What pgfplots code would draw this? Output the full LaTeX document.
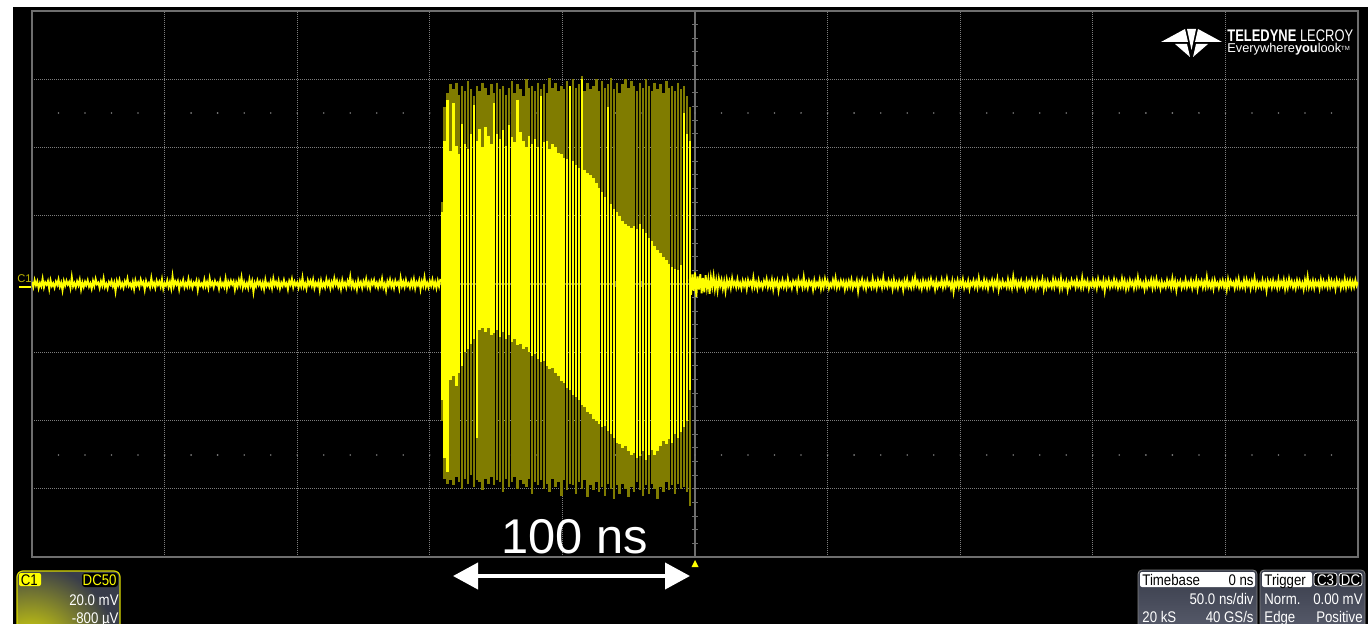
\documentclass[border=0pt]{standalone}
\usepackage{pgfplots}
\pgfplotsset{compat=1.18}
\usepackage{pgfplotstable}
\usepackage{graphicx}
\usepackage{fontspec}
\setmainfont{Liberation Sans}
\usetikzlibrary{arrows.meta}

\definecolor{trace}{RGB}{255,255,0}
\definecolor{traceolive}{RGB}{128,124,0}
\definecolor{gridgray}{RGB}{125,125,125}
\definecolor{framegray}{RGB}{110,110,110}
\definecolor{panelbg}{RGB}{56,60,74}
\definecolor{panelbot}{RGB}{92,96,112}
\definecolor{chanlabel}{RGB}{190,182,0}

\newcommand{\cond}[1]{\scalebox{0.86}[1]{#1}}
\newcommand{\panelfont}{\fontsize{7.7}{9}\selectfont}

% RF burst, one row per displayed stripe (time in ns, voltages in mV):
% lo/hi = full excursion, blo/bhi = densely hit (bright) part
\pgfplotstableread{
t lo hi blo bhi
-95.5 -40.0 24.0 -34.0 21.0
-94.4 -57.0 52.0 -51.0 42.0
-93.3 -58.5 56.0 -55.0 54.0
-92.2 -57.5 58.5 -28.0 39.0
-91.1 -59.0 57.0 -27.0 53.0
-90.0 -56.5 59.0 -30.0 40.5
-88.9 -58.0 55.5 -26.0 38.0
-87.8 -60.0 58.0 -24.0 47.0
-86.7 -57.0 56.5 -20.0 41.0
-85.6 -58.5 59.5 -19.0 39.5
-84.5 -56.0 57.0 -17.5 44.0
-83.4 -59.5 55.0 -16.0 52.5
-82.3 -57.5 58.0 -45.0 42.0
-81.2 -58.0 56.5 -13.5 45.5
-80.1 -60.5 59.0 -13.0 40.0
-79.0 -57.0 57.5 -14.0 46.0
-77.9 -58.5 55.5 -13.0 43.5
-76.8 -56.5 58.5 -15.0 41.0
-75.7 -59.0 56.0 -14.5 53.0
-74.6 -57.5 59.0 -13.5 44.0
-73.5 -58.0 57.0 -15.5 42.5
-72.4 -61.0 58.0 -14.0 45.0
-71.3 -57.0 55.5 -16.0 40.5
-70.2 -59.5 57.5 -15.0 46.5
-69.1 -58.0 59.5 -17.0 43.0
-68.0 -56.5 56.0 -16.0 41.5
-66.9 -60.0 58.5 -18.0 54.0
-65.8 -57.5 57.0 -17.5 44.5
-64.7 -58.5 55.0 -19.0 42.0
-63.6 -59.5 60.0 -18.5 40.0
-62.5 -57.0 57.5 -20.0 43.5
-61.4 -61.5 58.0 -21.0 41.0
-60.3 -58.0 56.5 -20.5 42.5
-59.2 -59.0 59.0 -22.0 40.0
-58.1 -57.5 57.0 -23.0 55.0
-57.0 -60.0 58.5 -22.5 41.5
-55.9 -58.5 56.0 -24.0 42.0
-54.8 -61.0 60.5 -25.0 39.5
-53.7 -57.0 57.5 -24.5 41.0
-52.6 -59.5 59.0 -26.0 40.0
-51.5 -58.0 56.5 -27.0 38.5
-50.4 -62.0 58.0 -28.5 38.0
-49.3 -57.5 57.0 -29.0 37.0
-48.2 -60.5 59.5 -30.5 36.5
-47.1 -58.5 56.0 -31.0 58.0
-46.0 -59.0 60.0 -32.5 36.0
-44.9 -61.5 57.5 -33.0 35.0
-43.8 -58.0 58.5 -34.0 34.0
-42.7 -60.0 61.0 -35.5 60.0
-41.6 -57.5 56.5 -36.0 33.5
-40.5 -62.5 59.0 -37.5 32.5
-39.4 -59.0 57.0 -38.0 32.0
-38.3 -60.5 58.0 -39.5 31.0
-37.2 -58.0 60.0 -40.0 29.5
-36.1 -61.0 56.5 -41.0 28.0
-35.0 -59.5 59.5 -42.0 27.0
-33.9 -62.0 57.5 -41.5 25.5
-32.8 -58.5 58.5 -43.0 52.0
-31.7 -60.0 60.5 -44.0 23.5
-30.6 -63.0 57.0 -45.0 22.0
-29.5 -59.0 59.0 -46.5 21.0
-28.4 -61.5 56.0 -47.0 20.0
-27.3 -58.5 58.5 -48.0 18.5
-26.2 -60.0 60.0 -47.5 17.5
-25.1 -62.5 57.5 -49.0 17.0
-24.0 -59.5 59.5 -50.0 16.5
-22.9 -61.0 58.0 -49.5 17.0
-21.8 -58.0 56.5 -51.0 16.0
-20.7 -60.5 59.0 -50.5 17.5
-19.6 -62.0 57.5 -49.0 16.0
-18.5 -59.0 60.0 -51.5 15.0
-17.4 -61.5 58.0 -50.0 13.5
-16.3 -58.5 56.5 -48.5 12.5
-15.2 -60.0 59.0 -50.0 11.0
-14.1 -63.0 57.0 -49.0 10.0
-13.0 -59.5 58.5 -47.5 9.0
-11.9 -61.0 56.0 -46.0 8.0
-10.8 -58.0 59.5 -47.0 7.0
-9.7 -60.5 57.5 -45.5 6.0
-8.6 -59.0 58.0 -46.5 5.0
-7.5 -61.5 56.5 -44.0 4.5
-6.4 -58.5 59.0 -45.0 4.0
-5.3 -60.0 57.0 -43.5 5.5
-4.2 -59.5 58.0 -42.0 50.0
-3.1 -61.0 55.0 -40.0 44.0
-2.0 -65.0 52.0 -31.0 42.0
}\burst

\pgfplotsset{
  stripes/.style={only marks, mark=*, mark size=0pt,
    mark options={draw opacity=0, fill opacity=0}, forget plot,
    error bars/.cd, y dir=minus, y explicit, error mark=none,
    error bar style={line width=1.2pt, #1}},
}

\begin{document}
\begin{tikzpicture}
% the page is exactly the screen capture: 1368 x 624 px at 2 px per pt
\path[use as bounding box] (0pt,0pt) rectangle (684pt,-312pt);
% screen and margins, in pixel units (y downwards)
\begin{scope}[x=0.5pt,y=-0.5pt]
\fill[white] (0,0) rectangle (1368,624);
\fill[black] (13,7) rectangle (1368,624);
% centre cross with 1/5 division ticks
\draw[framegray, line width=0.6pt] (695,11) -- (695,557);
\draw[framegray, line width=0.6pt] (32,284) -- (1358,284);
\foreach \k in {-19,...,19} \draw[framegray, line width=0.5pt] (692,{284+13.65*\k}) -- (698,{284+13.65*\k});
\foreach \k in {-24,...,24} \draw[framegray, line width=0.5pt] ({695+26.52*\k},281) -- ({695+26.52*\k},287);
% half-division dot rows
\foreach \k in {-24,...,24} {
  \fill[gridgray] ({695+26.52*\k},113) circle (0.45pt);
  \fill[gridgray] ({695+26.52*\k},455) circle (0.45pt);
}
\end{scope}

\begin{axis}[
  at={(16pt,-278.5pt)}, anchor=south west,
  scale only axis, width=663pt, height=273pt,
  xmin=-250, xmax=250, ymin=-80, ymax=80,
  xtick={-200,-150,-100,-50,50,100,150,200},
  ytick={-60,-40,-20,20,40,60},
  xticklabels={}, yticklabels={}, scaled ticks=false,
  major tick length=0pt,
  grid=major,
  major grid style={draw=gridgray, line width=0.5pt, dash pattern=on 0.5pt off 0.5pt},
  axis line style={draw=framegray, line width=0.6pt},
]
% baseline noise before the burst
\addplot[trace, line width=0.9pt, mark=none] coordinates {
(-250,0.6)(-249.5,-0.9)(-249,1.2)(-248.5,-0.4)(-248,0.8)(-247.5,-1.3)(-247,0.3)(-246.5,-0.7)(-246,1.6)(-245.5,-1.0)
(-245,0.5)(-244.5,-0.2)(-244,0.9)(-243.5,-1.5)(-243,1.1)(-242.5,-0.6)(-242,0.2)(-241.5,-1.1)(-241,0.7)(-240.5,-0.3)
(-240,1.4)(-239.5,-0.8)(-239,0.4)(-238.5,-1.9)(-238,0.9)(-237.5,-0.5)(-237,1.0)(-236.5,-0.2)(-236,0.6)(-235.5,-1.2)
(-235,2.1)(-234.5,-0.7)(-234,0.3)(-233.5,-1.0)(-233,0.8)(-232.5,-0.4)(-232,1.3)(-231.5,-1.6)(-231,0.5)(-230.5,-0.9)
(-230,0.7)(-229.5,-0.3)(-229,1.1)(-228.5,-0.8)(-228,0.2)(-227.5,-1.4)(-227,0.9)(-226.5,-0.6)(-226,1.5)(-225.5,-0.1)
(-225,0.4)(-224.5,-1.2)(-224,0.8)(-223.5,-0.5)(-223,1.7)(-222.5,-0.9)(-222,0.1)(-221.5,-1.3)(-221,0.6)(-220.5,-0.2)
(-220,1.0)(-219.5,-0.7)(-219,0.5)(-218.5,-2.2)(-218,0.9)(-217.5,-0.4)(-217,1.2)(-216.5,-0.8)(-216,0.3)(-215.5,-1.1)
(-215,0.8)(-214.5,-0.3)(-214,1.6)(-213.5,-0.6)(-213,0.2)(-212.5,-1.0)(-212,0.7)(-211.5,-1.5)(-211,1.1)(-210.5,-0.4)
(-210,0.5)(-209.5,-0.9)(-209,1.3)(-208.5,-0.2)(-208,0.6)(-207.5,-1.7)(-207,0.9)(-206.5,-0.5)(-206,0.3)(-205.5,-1.0)
(-205,1.8)(-204.5,-0.6)(-204,0.4)(-203.5,-1.2)(-203,1.0)(-202.5,-0.3)(-202,0.7)(-201.5,-0.8)(-201,1.4)(-200.5,-1.4)
(-200,0.2)(-199.5,-0.5)(-199,1.1)(-198.5,-0.9)(-198,0.6)(-197.5,-1.3)(-197,2.3)(-196.5,-0.7)(-196,0.8)(-195.5,-0.2)
(-195,0.9)(-194.5,-1.6)(-194,0.5)(-193.5,-0.4)(-193,1.2)(-192.5,-1.0)(-192,0.3)(-191.5,-0.8)(-191,1.5)(-190.5,-0.6)
(-190,0.7)(-189.5,-1.1)(-189,0.4)(-188.5,-0.3)(-188,1.0)(-187.5,-1.8)(-187,0.8)(-186.5,-0.5)(-186,0.2)(-185.5,-0.9)
(-185,1.3)(-184.5,-0.7)(-184,0.6)(-183.5,-1.2)(-183,1.7)(-182.5,-0.4)(-182,0.5)(-181.5,-1.0)(-181,0.9)(-180.5,-0.2)
(-180,0.4)(-179.5,-1.4)(-179,1.1)(-178.5,-0.6)(-178,0.3)(-177.5,-0.9)(-177,1.6)(-176.5,-1.3)(-176,0.7)(-175.5,-0.5)
(-175,1.0)(-174.5,-0.2)(-174,0.8)(-173.5,-1.7)(-173,0.5)(-172.5,-0.8)(-172,1.2)(-171.5,-0.4)(-171,2.0)(-170.5,-1.1)
(-170,0.6)(-169.5,-0.9)(-169,0.3)(-168.5,-1.2)(-168,1.4)(-167.5,-0.5)(-167,0.9)(-166.5,-2.4)(-166,0.4)(-165.5,-0.7)
(-165,1.1)(-164.5,-0.3)(-164,0.7)(-163.5,-1.0)(-163,0.5)(-162.5,-1.5)(-162,1.3)(-161.5,-0.6)(-161,0.2)(-160.5,-0.9)
(-160,0.8)(-159.5,-1.2)(-159,1.6)(-158.5,-0.4)(-158,0.6)(-157.5,-0.8)(-157,1.0)(-156.5,-1.3)(-156,0.4)(-155.5,-0.6)
(-155,1.2)(-154.5,-0.5)(-154,0.3)(-153.5,-1.6)(-153,0.9)(-152.5,-0.2)(-152,1.5)(-151.5,-1.0)(-151,0.7)(-150.5,-0.4)
(-150,0.5)(-149.5,-1.1)(-149,0.8)(-148.5,-0.7)(-148,1.9)(-147.5,-0.9)(-147,0.2)(-146.5,-1.4)(-146,1.1)(-145.5,-0.3)
(-145,0.9)(-144.5,-0.6)(-144,1.3)(-143.5,-1.2)(-143,0.4)(-142.5,-0.5)(-142,0.7)(-141.5,-1.8)(-141,1.0)(-140.5,-0.8)
(-140,0.3)(-139.5,-1.0)(-139,1.4)(-138.5,-0.4)(-138,0.8)(-137.5,-1.3)(-137,0.6)(-136.5,-0.7)(-136,1.7)(-135.5,-0.2)
(-135,1.0)(-134.5,-0.9)(-134,0.5)(-133.5,-1.5)(-133,1.2)(-132.5,-0.6)(-132,0.4)(-131.5,-1.1)(-131,0.9)(-130.5,-0.3)
(-130,2.2)(-129.5,-0.8)(-129,0.7)(-128.5,-1.0)(-128,0.3)(-127.5,-1.6)(-127,1.1)(-126.5,-0.5)(-126,0.6)(-125.5,-1.2)
(-125,0.8)(-124.5,-0.4)(-124,1.5)(-123.5,-0.9)(-123,0.5)(-122.5,-1.3)(-122,0.9)(-121.5,-0.2)(-121,1.2)(-120.5,-0.7)
(-120,0.4)(-119.5,-1.1)(-119,0.7)(-118.5,-0.6)(-118,1.6)(-117.5,-1.0)(-117,0.2)(-116.5,-1.9)(-116,0.8)(-115.5,-0.5)
(-115,1.3)(-114.5,-0.8)(-114,0.6)(-113.5,-1.2)(-113,1.0)(-112.5,-0.3)(-112,0.5)(-111.5,-1.4)(-111,1.8)(-110.5,-0.6)
(-110,0.7)(-109.5,-0.9)(-109,1.2)(-108.5,-0.5)(-108,0.3)(-107.5,-1.1)(-107,0.9)(-106.5,-0.7)(-106,1.4)(-105.5,-1.3)
(-105,0.5)(-104.5,-0.4)(-104,1.1)(-103.5,-1.6)(-103,0.8)(-102.5,-0.6)(-102,2.0)(-101.5,-0.9)(-101,0.4)(-100.5,-1.0)
(-100,0.9)(-99.5,-0.5)(-99,1.3)(-98.5,-0.8)(-98,0.6)(-97.5,-1.2)(-97,1.0)(-96.5,-0.7)(-96,1.5)
};
% burst: full excursion (sparsely hit), then the densely hit part on top
\addplot[traceolive, stripes=traceolive]
  table[x=t, y=hi, y error minus expr=\thisrow{hi}-\thisrow{lo}] {\burst};
\addplot[trace, stripes=trace]
  table[x=t, y=bhi, y error minus expr=\thisrow{bhi}-\thisrow{blo}] {\burst};
% ringing and baseline noise after the burst
\addplot[trace, line width=0.9pt, mark=none] coordinates {
(-2,1.5)(-1.5,-3.2)(-1,2.8)(-0.5,-2.0)(0,3.4)(0.5,-3.8)(1,2.2)(1.5,-1.6)(2,2.9)(2.5,-2.7)
(3,1.8)(3.5,-2.4)(4,2.6)(4.5,-1.2)(5,1.4)(5.5,-2.9)(6,1.9)(6.5,-0.8)(7,2.3)(7.5,-1.5)
(8,1.1)(8.5,-1.9)(9,1.6)(9.5,-0.6)(10,1.2)(10.5,-1.4)(11,0.8)(11.5,-2.1)(12,1.3)(12.5,-0.7)
(13,0.9)(13.5,-1.2)(14,1.7)(14.5,-0.5)(15,0.6)(15.5,-1.0)(16,1.4)(16.5,-0.8)(17,0.4)(17.5,-1.3)
(18,1.0)(18.5,-0.6)(19,0.8)(19.5,-1.5)(20,1.2)(20.5,-0.3)(21,0.7)(21.5,-1.1)(22,1.9)(22.5,-0.9)
(23,0.5)(23.5,-1.4)(24,1.1)(24.5,-0.7)(25,0.3)(25.5,-1.2)(26,0.9)(26.5,-0.4)(27,1.5)(27.5,-1.0)
(28,0.6)(28.5,-0.8)(29,1.3)(29.5,-1.6)(30,0.8)(30.5,-0.5)(31,1.0)(31.5,-2.0)(32,0.4)(32.5,-0.7)
(33,1.2)(33.5,-0.9)(34,0.5)(34.5,-1.1)(35,1.6)(35.5,-0.6)(36,0.3)(36.5,-1.3)(37,0.9)(37.5,-0.2)
(38,0.8)(38.5,-1.5)(39,1.4)(39.5,-0.4)(40,0.7)(40.5,-1.0)(41,2.1)(41.5,-0.8)(42,0.5)(42.5,-1.2)
(43,1.0)(43.5,-0.3)(44,0.6)(44.5,-1.7)(45,1.1)(45.5,-0.9)(46,0.4)(46.5,-0.6)(47,1.3)(47.5,-1.4)
(48,0.7)(48.5,-1.0)(49,1.5)(49.5,-0.5)(50,0.9)(50.5,-1.3)(51,0.2)(51.5,-0.8)(52,1.2)(52.5,-0.6)
(53,1.8)(53.5,-1.1)(54,0.5)(54.5,-0.9)(55,1.0)(55.5,-0.4)(56,0.8)(56.5,-1.6)(57,0.6)(57.5,-1.0)
(58,0.9)(58.5,-0.7)(59,1.3)(59.5,-1.2)(60,0.4)(60.5,-0.5)(61,1.1)(61.5,-2.2)(62,0.7)(62.5,-0.3)
(63,1.4)(63.5,-0.9)(64,0.6)(64.5,-1.4)(65,1.0)(65.5,-0.6)(66,0.3)(66.5,-1.0)(67,1.6)(67.5,-0.8)
(68,0.5)(68.5,-1.3)(69,1.2)(69.5,-0.4)(70,0.8)(70.5,-1.1)(71,1.9)(71.5,-0.7)(72,0.4)(72.5,-0.9)
(73,1.1)(73.5,-0.5)(74,0.7)(74.5,-1.5)(75,1.3)(75.5,-0.8)(76,0.5)(76.5,-1.2)(77,0.9)(77.5,-0.4)
(78,0.6)(78.5,-1.8)(79,1.0)(79.5,-0.6)(80,1.4)(80.5,-0.9)(81,0.3)(81.5,-1.1)(82,1.2)(82.5,-0.7)
(83,2.0)(83.5,-0.4)(84,0.8)(84.5,-1.0)(85,0.5)(85.5,-1.4)(86,1.1)(86.5,-0.6)(87,0.7)(87.5,-1.2)
(88,0.9)(88.5,-0.8)(89,1.5)(89.5,-0.3)(90,0.6)(90.5,-1.6)(91,1.0)(91.5,-0.9)(92,0.4)(92.5,-0.5)
(93,1.3)(93.5,-1.1)(94,0.7)(94.5,-0.7)(95,1.7)(95.5,-0.4)(96,0.5)(96.5,-1.3)(97,0.9)(97.5,-2.3)
(98,0.6)(98.5,-0.6)(99,1.2)(99.5,-1.0)(100,0.8)(100.5,-0.5)(101,1.4)(101.5,-1.2)(102,0.3)(102.5,-0.8)
(103,1.0)(103.5,-1.5)(104,0.5)(104.5,-0.4)(105,1.1)(105.5,-0.9)(106,0.7)(106.5,-1.1)(107,1.8)(107.5,-0.6)
(108,0.4)(108.5,-1.0)(109,1.3)(109.5,-0.7)(110,0.9)(110.5,-1.4)(111,0.6)(111.5,-0.3)(112,1.2)(112.5,-1.2)
(113,0.8)(113.5,-0.5)(114,1.6)(114.5,-1.7)(115,0.5)(115.5,-0.8)(116,1.0)(116.5,-0.6)(117,0.3)(117.5,-1.0)
(118,1.4)(118.5,-0.9)(119,0.7)(119.5,-1.2)(120,2.2)(120.5,-0.4)(121,0.9)(121.5,-1.3)(122,0.6)(122.5,-0.7)
(123,1.1)(123.5,-0.6)(124,0.4)(124.5,-1.5)(125,1.0)(125.5,-1.0)(126,0.8)(126.5,-0.5)(127,1.3)(127.5,-0.9)
(128,0.5)(128.5,-1.3)(129,1.2)(129.5,-0.8)(130,0.6)(130.5,-0.4)(131,1.5)(131.5,-1.6)(132,0.7)(132.5,-1.1)
(133,0.9)(133.5,-0.7)(134,0.3)(134.5,-1.0)(135,1.4)(135.5,-0.9)(136,1.1)(136.5,-0.5)(137,0.8)(137.5,-1.4)
(138,1.6)(138.5,-1.2)(139,0.6)(139.5,-0.6)(140,0.9)(140.5,-1.8)(141,0.4)(141.5,-0.8)(142,1.2)(142.5,-0.3)
(143,0.7)(143.5,-1.0)(144,1.3)(144.5,-0.7)(145,0.5)(145.5,-1.1)(146,1.9)(146.5,-0.9)(147,0.8)(147.5,-0.5)
(148,1.0)(148.5,-1.4)(149,0.4)(149.5,-0.6)(150,1.2)(150.5,-0.8)(151,0.7)(151.5,-1.3)(152,1.5)(152.5,-0.4)
(153,0.6)(153.5,-0.9)(154,1.1)(154.5,-2.1)(155,0.8)(155.5,-0.5)(156,1.3)(156.5,-1.0)(157,0.5)(157.5,-0.7)
(158,1.4)(158.5,-0.6)(159,0.9)(159.5,-1.2)(160,0.4)(160.5,-0.9)(161,1.6)(161.5,-0.7)(162,1.0)(162.5,-1.5)
(163,0.5)(163.5,-1.1)(164,1.2)(164.5,-0.4)(165,0.7)(165.5,-1.3)(166,0.9)(166.5,-0.8)(167,2.0)(167.5,-0.6)
(168,0.8)(168.5,-0.7)(169,0.4)(169.5,-1.6)(170,1.1)(170.5,-1.0)(171,0.6)(171.5,-0.5)(172,1.3)(172.5,-1.2)
(173,1.0)(173.5,-0.9)(174,1.5)(174.5,-0.6)(175,0.5)(175.5,-1.4)(176,0.8)(176.5,-0.8)(177,0.3)(177.5,-1.0)
(178,1.2)(178.5,-0.5)(179,0.7)(179.5,-1.1)(180,1.7)(180.5,-0.7)(181,0.9)(181.5,-1.9)(182,0.6)(182.5,-0.4)
(183,0.9)(183.5,-1.2)(184,0.4)(184.5,-0.8)(185,1.3)(185.5,-1.0)(186,0.5)(186.5,-0.6)(187,1.1)(187.5,-1.3)
(188,0.6)(188.5,-0.7)(189,1.4)(189.5,-1.5)(190,0.8)(190.5,-0.3)(191,1.0)(191.5,-1.1)(192,0.7)(192.5,-0.9)
(193,2.1)(193.5,-0.8)(194,0.5)(194.5,-1.0)(195,0.9)(195.5,-1.4)(196,1.2)(196.5,-0.5)(197,0.4)(197.5,-1.2)
(198,0.8)(198.5,-0.6)(199,1.1)(199.5,-0.9)(200,0.6)(200.5,-1.7)(201,1.4)(201.5,-0.8)(202,0.9)(202.5,-0.4)
(203,0.5)(203.5,-1.3)(204,1.0)(204.5,-0.7)(205,1.5)(205.5,-1.0)(206,0.3)(206.5,-0.9)(207,1.2)(207.5,-1.1)
(208,1.3)(208.5,-0.5)(209,0.7)(209.5,-1.4)(210,0.9)(210.5,-0.6)(211,1.8)(211.5,-1.2)(212,0.6)(212.5,-0.8)
(213,0.4)(213.5,-1.0)(214,1.2)(214.5,-0.8)(215,0.6)(215.5,-2.0)(216,1.0)(216.5,-0.5)(217,0.8)(217.5,-1.1)
(218,1.1)(218.5,-0.7)(219,0.5)(219.5,-1.2)(220,1.4)(220.5,-0.9)(221,0.7)(221.5,-0.6)(222,1.3)(222.5,-1.5)
(223,0.7)(223.5,-1.1)(224,1.6)(224.5,-0.4)(225,0.9)(225.5,-1.0)(226,0.5)(226.5,-1.3)(227,1.1)(227.5,-0.6)
(228,0.9)(228.5,-0.8)(229,0.4)(229.5,-1.6)(230,1.2)(230.5,-0.7)(231,2.2)(231.5,-1.0)(232,0.6)(232.5,-0.9)
(233,1.0)(233.5,-1.2)(234,0.8)(234.5,-0.5)(235,0.6)(235.5,-1.4)(236,1.3)(236.5,-0.8)(237,0.9)(237.5,-0.7)
(238,0.5)(238.5,-1.0)(239,1.4)(239.5,-0.9)(240,1.0)(240.5,-0.6)(241,0.7)(241.5,-1.5)(242,1.2)(242.5,-0.4)
(243,0.8)(243.5,-1.3)(244,0.6)(244.5,-0.8)(245,1.5)(245.5,-1.1)(246,0.9)(246.5,-0.6)(247,1.1)(247.5,-1.0)
(248,0.7)(248.5,-0.9)(249,1.2)(249.5,-0.5)(250,0.6)
};
\end{axis}

\begin{scope}[x=0.5pt,y=-0.5pt]
% channel marker on the left edge
\node[anchor=base west, inner sep=0pt, text=chanlabel, font=\fontsize{5.6}{6}\selectfont] at (17,283) {C1};
\draw[trace, line width=0.6pt] (19,287) -- (31,287);
% trigger position marker
\fill[trace] (691.5,567) -- (698.5,567) -- (695,560) -- cycle;

% duration annotation
\node[anchor=base, inner sep=0pt, text=white, font=\fontsize{24.4}{28}\selectfont] at (574.5,553) {100 ns};
\draw[white, line width=2pt, {Triangle[length=12.5pt,width=13pt]}-{Triangle[length=12.5pt,width=13pt]}] (453,576) -- (690,576);

% brand mark
\fill[white] (1161,42) -- (1185,29) -- (1188,42) -- cycle;
\fill[white] (1222,42) -- (1198,29) -- (1195,42) -- cycle;
\fill[white] (1187,29) -- (1196,29) -- (1191.5,50) -- cycle;
\fill[white] (1175,44) -- (1187,44) -- (1190,57) -- cycle;
\fill[white] (1208,44) -- (1196,44) -- (1193,57) -- cycle;
\node[anchor=base west, inner sep=0pt, text=white, font=\fontsize{8.4}{9}\selectfont] at (1227,42) {\scalebox{0.77}[1]{\textbf{TELEDYNE} LECROY}};
\node[anchor=base west, inner sep=0pt, text=white, font=\fontsize{6.4}{7}\selectfont] at (1227,53) {Everywhere\textbf{you}look{\fontsize{3}{3}\selectfont\raisebox{0.9ex}{TM}}};

% channel descriptor panel
\begin{scope}
\clip[rounded corners=3pt] (17,571) rectangle (120,640);
\fill[panelbg] (17,571) rectangle (120,640);
\shade[inner color=trace!92!black, outer color=panelbg] (30,652) circle (88);
\end{scope}
\draw[trace!85!black, line width=0.6pt, rounded corners=3pt] (17,640) -- (17,571) -- (120,571) -- (120,640);
\fill[trace, rounded corners=1pt] (19,573) rectangle (41,586);
\node[anchor=base west, inner sep=0pt, text=black, font=\panelfont] at (20.5,585) {\cond{C1}};
\fill[black, rounded corners=1.5pt] (82,573) rectangle (118,587);
\node[anchor=base east, inner sep=0pt, text=trace, font=\panelfont] at (117,585) {\cond{DC50}};
\node[anchor=base east, inner sep=0pt, text=white, font=\panelfont] at (119,605) {\cond{20.0 mV}};
\node[anchor=base east, inner sep=0pt, text=white, font=\panelfont] at (119,623) {\cond{-800 µV}};

% timebase panel
\shade[top color=panelbg, bottom color=panelbot, rounded corners=2pt] (1138,570) rectangle (1257,640);
\draw[gray, line width=0.4pt, rounded corners=2pt] (1138,640) -- (1138,570) -- (1257,570) -- (1257,640);
\fill[white, rounded corners=1pt] (1140,572) rectangle (1255,587);
\node[anchor=base west, inner sep=0pt, text=black, font=\panelfont] at (1142,585) {\cond{Timebase}};
\node[anchor=base east, inner sep=0pt, text=black, font=\panelfont] at (1254,585) {\cond{0 ns}};
\node[anchor=base east, inner sep=0pt, text=white, font=\panelfont] at (1254,604) {\cond{50.0 ns/div}};
\node[anchor=base west, inner sep=0pt, text=white, font=\panelfont] at (1142,622) {\cond{20 kS}};
\node[anchor=base east, inner sep=0pt, text=white, font=\panelfont] at (1254,622) {\cond{40 GS/s}};

% trigger panel
\shade[top color=panelbg, bottom color=panelbot, rounded corners=2pt] (1260,570) rectangle (1365,640);
\draw[gray, line width=0.4pt, rounded corners=2pt] (1260,640) -- (1260,570) -- (1365,570) -- (1365,640);
\fill[white, rounded corners=1pt] (1262,572) rectangle (1312,587);
\node[anchor=base west, inner sep=0pt, text=black, font=\panelfont] at (1264,585) {\cond{Trigger}};
\filldraw[black, draw=white, line width=0.4pt, rounded corners=1.5pt] (1314,573) rectangle (1337,586);
\node[anchor=base, inner sep=0pt, text=white, font=\panelfont] at (1325.5,585) {\cond{C3}};
\filldraw[black, draw=white, line width=0.4pt, rounded corners=1.5pt] (1339,573) rectangle (1362,586);
\node[anchor=base, inner sep=0pt, text=white, font=\panelfont] at (1350.5,585) {\cond{DC}};
\node[anchor=base west, inner sep=0pt, text=white, font=\panelfont] at (1264,604) {\cond{Norm.}};
\node[anchor=base east, inner sep=0pt, text=white, font=\panelfont] at (1363,604) {\cond{0.00 mV}};
\node[anchor=base west, inner sep=0pt, text=white, font=\panelfont] at (1264,622) {\cond{Edge}};
\node[anchor=base east, inner sep=0pt, text=white, font=\panelfont] at (1363,622) {\cond{Positive}};
\end{scope}
\end{tikzpicture}
\end{document}
